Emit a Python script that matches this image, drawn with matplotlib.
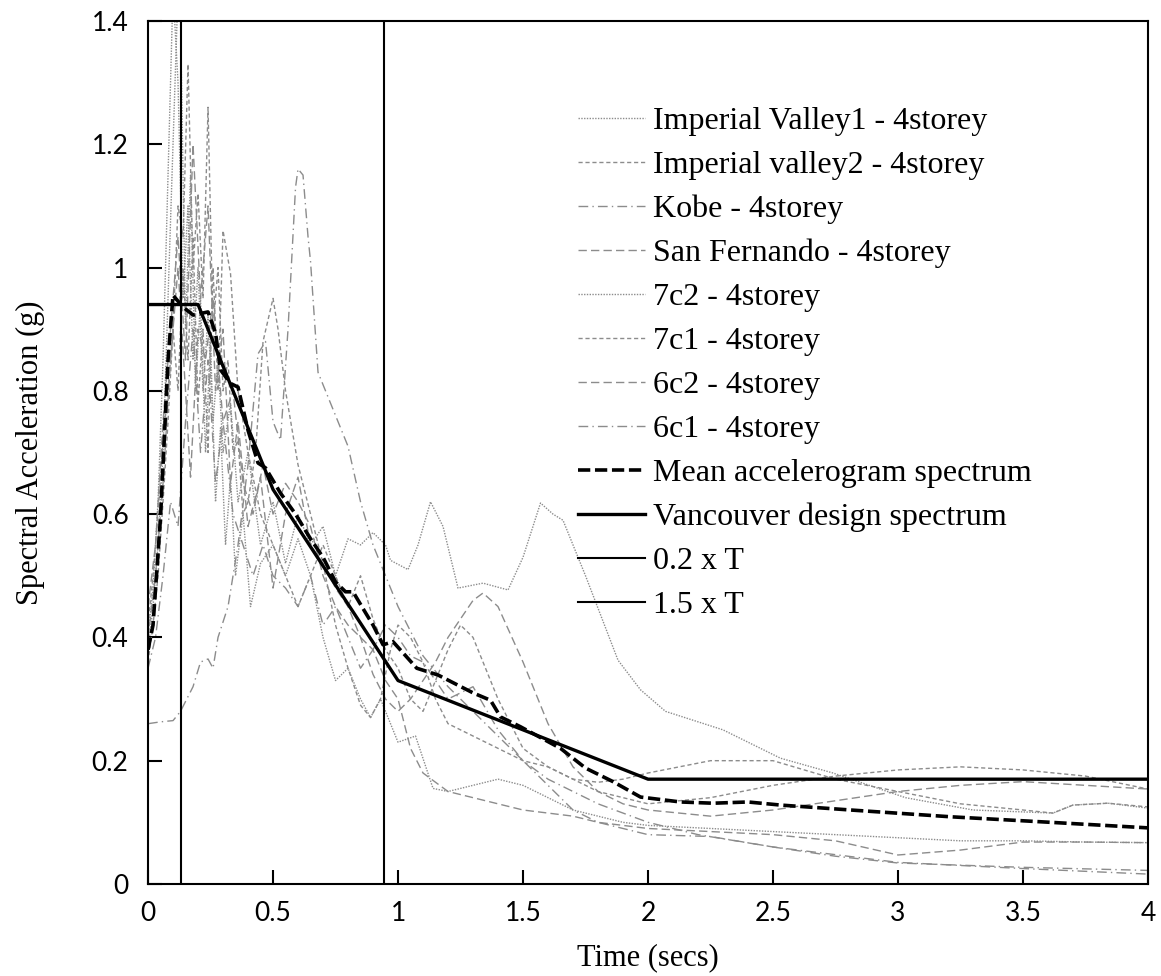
import matplotlib
matplotlib.use("Agg")
import matplotlib.pyplot as plt

# ---- data (period in s, spectral acceleration in g) ----
iv1_t = [0, 0.02, 0.04, 0.06, 0.08, 0.10, 0.12, 0.14, 0.16, 0.18, 0.20, 0.22, 0.24, 0.26, 0.28,
         0.30, 0.33, 0.36, 0.40, 0.45, 0.50, 0.55, 0.60, 0.65, 0.70, 0.75, 0.80, 0.85, 0.90, 0.95,
         0.97, 1.04, 1.08, 1.13, 1.18, 1.24, 1.34, 1.44, 1.50, 1.57, 1.62, 1.66, 1.75, 1.88, 1.97,
         2.07, 2.3, 2.53, 2.74, 3.03, 3.3, 3.62, 3.7, 3.84, 4.0]
iv1_sa = [0.40, 0.48, 0.62, 0.85, 1.15, 1.45, 1.30, 0.95, 1.10, 0.85, 1.00, 0.80, 0.92, 0.75, 0.85,
          0.70, 0.78, 0.62, 0.70, 0.55, 0.62, 0.52, 0.60, 0.55, 0.58, 0.50, 0.56, 0.55, 0.57, 0.55,
          0.525, 0.51, 0.55, 0.62, 0.58, 0.48, 0.488, 0.477, 0.53, 0.618, 0.60, 0.59, 0.50, 0.363, 0.315,
          0.28, 0.25, 0.204, 0.18, 0.14, 0.12, 0.115, 0.128, 0.131, 0.123]

iv2_t = [0, 0.02, 0.04, 0.06, 0.08, 0.10, 0.12, 0.14, 0.16, 0.18, 0.20, 0.22, 0.24, 0.26, 0.28,
         0.30, 0.32, 0.34, 0.36, 0.38, 0.40, 0.43, 0.46, 0.50, 0.52, 0.55, 0.60, 0.65, 0.70, 0.75,
         0.80, 0.85, 0.89, 0.93, 0.97, 1.0, 1.05, 1.1, 1.15, 1.2, 1.3, 1.4, 1.5, 1.6, 1.7, 1.8, 1.9,
         2.0, 2.25, 2.5, 2.75, 3.0, 3.25, 3.5, 3.75, 4.0]
iv2_sa = [0.42, 0.5, 0.6, 0.72, 0.8, 0.9, 1.1, 1.05, 1.33, 1.0, 1.12, 0.95, 1.26, 0.9, 1.0,
          0.8, 0.85, 0.7, 0.72, 0.6, 0.62, 0.7, 0.88, 0.95, 0.9, 0.8, 0.68, 0.6, 0.52, 0.42,
          0.35, 0.29, 0.27, 0.3, 0.38, 0.42, 0.4, 0.36, 0.3, 0.26, 0.24, 0.22, 0.2, 0.19, 0.17, 0.15, 0.14,
          0.13, 0.14, 0.16, 0.175, 0.185, 0.19, 0.185, 0.175, 0.154]

kobe_t = [0, 0.05, 0.1, 0.13, 0.18, 0.21, 0.24, 0.26, 0.28, 0.32, 0.36, 0.40, 0.44, 0.47, 0.50,
          0.53, 0.56, 0.59, 0.60, 0.62, 0.64, 0.65, 0.68, 0.70, 0.75, 0.80, 0.85, 0.90, 0.95, 1.0,
          1.05, 1.1, 1.2, 1.3, 1.4, 1.5, 1.6, 1.8, 2.0, 2.2, 2.5, 3.0, 3.5, 4.0]
kobe_sa = [0.26, 0.263, 0.265, 0.28, 0.32, 0.36, 0.365, 0.35, 0.40, 0.45, 0.55, 0.68, 0.86, 0.88, 0.75,
           0.72, 0.90, 1.13, 1.16, 1.15, 1.05, 1.01, 0.83, 0.81, 0.76, 0.71, 0.62, 0.55, 0.50, 0.45,
           0.41, 0.37, 0.32, 0.28, 0.24, 0.2, 0.17, 0.13, 0.10, 0.08, 0.06, 0.035, 0.025, 0.016]

sf_t = [0, 0.03, 0.06, 0.09, 0.12, 0.15, 0.18, 0.21, 0.24, 0.27, 0.30, 0.33, 0.36, 0.40, 0.45,
        0.50, 0.55, 0.60, 0.65, 0.70, 0.75, 0.80, 0.85, 0.90, 0.95, 1.0, 1.05, 1.1, 1.15, 1.2,
        1.25, 1.3, 1.34, 1.4, 1.5, 1.6, 1.7, 1.8, 1.9, 2.0, 2.25, 2.5, 2.75, 3.0, 3.25, 3.5, 3.75, 4.0]
sf_sa = [0.45, 0.55, 0.75, 0.9, 1.05, 0.85, 1.2, 0.95, 1.1, 0.8, 0.9, 0.65, 0.75, 0.58, 0.66,
         0.48, 0.6, 0.66, 0.55, 0.52, 0.48, 0.45, 0.4, 0.34, 0.3, 0.28, 0.3, 0.33, 0.36, 0.4,
         0.43, 0.46, 0.472, 0.45, 0.36, 0.26, 0.19, 0.15, 0.13, 0.12, 0.11, 0.12, 0.135, 0.15, 0.16, 0.166, 0.16, 0.154]

c72_t = [0, 0.02, 0.04, 0.06, 0.08, 0.10, 0.12, 0.13, 0.15, 0.17, 0.19, 0.21, 0.23, 0.25, 0.27,
         0.29, 0.31, 0.33, 0.35, 0.38, 0.41, 0.45, 0.5, 0.55, 0.6, 0.65, 0.7, 0.75, 0.8, 0.85,
         0.89, 0.93, 0.97, 1.0, 1.07, 1.14, 1.2, 1.3, 1.4, 1.5, 1.6, 1.7, 1.8, 1.9, 2.0, 2.25,
         2.5, 2.75, 3.0, 3.25, 3.5, 3.75, 4.0]
c72_sa = [0.38, 0.45, 0.55, 0.7, 0.95, 1.2, 1.45, 1.4, 0.9, 1.15, 0.8, 0.95, 0.7, 0.88, 0.62,
          0.74, 0.55, 0.66, 0.5, 0.6, 0.45, 0.52, 0.55, 0.5, 0.56, 0.5, 0.4, 0.33, 0.35, 0.3,
          0.27, 0.3, 0.26, 0.23, 0.24, 0.155, 0.15, 0.16, 0.17, 0.16, 0.14, 0.12, 0.11, 0.1, 0.095, 0.09,
          0.085, 0.08, 0.075, 0.07, 0.07, 0.068, 0.067]

c71_t = [0, 0.02, 0.04, 0.06, 0.08, 0.10, 0.12, 0.14, 0.16, 0.18, 0.20, 0.22, 0.24, 0.26, 0.28,
         0.30, 0.33, 0.36, 0.40, 0.45, 0.50, 0.55, 0.60, 0.65, 0.70, 0.75, 0.80, 0.85, 0.90, 0.95,
         1.0, 1.05, 1.1, 1.2, 1.25, 1.3, 1.4, 1.5, 1.6, 1.7, 1.8, 1.9, 2.0, 2.25, 2.5, 2.75, 3.0,
         3.25, 3.5, 3.62, 3.7, 3.84, 4.0]
c71_sa = [0.36, 0.42, 0.5, 0.62, 0.75, 0.9, 0.8, 1.0, 0.85, 1.05, 0.78, 0.9, 0.7, 1.0, 0.8,
          1.06, 0.99, 0.8, 0.7, 0.6, 0.55, 0.5, 0.45, 0.5, 0.55, 0.5, 0.45, 0.5, 0.43, 0.38,
          0.35, 0.3, 0.28, 0.38, 0.42, 0.4, 0.3, 0.22, 0.19, 0.17, 0.165, 0.17, 0.18, 0.2, 0.2, 0.17, 0.15,
          0.13, 0.12, 0.115, 0.128, 0.131, 0.125]

c62_t = [0, 0.03, 0.06, 0.09, 0.12, 0.15, 0.17, 0.2, 0.23, 0.26, 0.3, 0.34, 0.38, 0.42, 0.46,
         0.5, 0.55, 0.6, 0.65, 0.7, 0.75, 0.8, 0.85, 0.9, 0.95, 1.0, 1.05, 1.1, 1.2, 1.3, 1.4,
         1.5, 1.6, 1.7, 1.8, 1.9, 2.0, 2.25, 2.5, 2.75, 3.0, 3.25, 3.5, 3.75, 4.0]
c62_sa = [0.4, 0.5, 0.65, 0.85, 1.0, 0.8, 0.66, 0.9, 0.85, 0.95, 0.75, 0.8, 0.65, 0.6, 0.68,
          0.6, 0.65, 0.62, 0.58, 0.5, 0.45, 0.42, 0.4, 0.38, 0.33, 0.3, 0.22, 0.18, 0.15, 0.14, 0.13,
          0.12, 0.115, 0.11, 0.1, 0.095, 0.09, 0.085, 0.08, 0.07, 0.047, 0.055, 0.068, 0.068, 0.067]

c61_t = [0, 0.03, 0.06, 0.09, 0.12, 0.15, 0.18, 0.21, 0.24, 0.27, 0.3, 0.34, 0.38, 0.42, 0.46,
         0.5, 0.55, 0.6, 0.65, 0.7, 0.75, 0.8, 0.85, 0.9, 0.95, 1.0, 1.05, 1.1, 1.2, 1.3, 1.4,
         1.5, 1.6, 1.7, 1.8, 2.0, 2.25, 2.5, 2.75, 3.0, 3.5, 4.0]
c61_sa = [0.35, 0.4, 0.5, 0.62, 0.58, 0.75, 0.9, 0.7, 0.85, 0.65, 0.75, 0.6, 0.55, 0.5, 0.55,
          0.5, 0.48, 0.45, 0.5, 0.42, 0.45, 0.4, 0.35, 0.38, 0.42, 0.4, 0.37, 0.36, 0.3, 0.32, 0.25,
          0.2, 0.16, 0.12, 0.1, 0.08, 0.077, 0.06, 0.045, 0.034, 0.027, 0.022]

mean_t = [0, 0.02, 0.05, 0.08, 0.10, 0.14, 0.18, 0.24, 0.27, 0.29, 0.33, 0.36, 0.40, 0.44, 0.47,
          0.53, 0.59, 0.65, 0.70, 0.75, 0.79, 0.82, 0.87, 0.90, 0.94, 0.98, 1.075, 1.16, 1.3, 1.37,
          1.41, 1.49, 1.65, 1.75, 1.86, 1.97, 2.13, 2.26, 2.4, 2.53, 2.81, 3.21, 3.61, 4.0]
mean_sa = [0.38, 0.42, 0.595, 0.85, 0.955, 0.936, 0.923, 0.928, 0.894, 0.834, 0.812, 0.806, 0.736, 0.683, 0.675,
           0.634, 0.60, 0.56, 0.53, 0.49, 0.474, 0.474, 0.44, 0.42, 0.388, 0.393, 0.35, 0.339, 0.31, 0.298,
           0.271, 0.255, 0.22, 0.188, 0.166, 0.141, 0.133, 0.131, 0.133, 0.128, 0.12, 0.109, 0.10, 0.091]

design_t = [0, 0.2, 0.5, 1.0, 2.0, 4.0]
design_sa = [0.94, 0.94, 0.64, 0.33, 0.17, 0.17]

t_low = 0.132   # 0.2 x T
t_high = 0.944  # 1.5 x T

records = [
    ("Imperial Valley1 - 4storey", iv1_t, iv1_sa, (0, (1, 1))),
    ("Imperial valley2 - 4storey", iv2_t, iv2_sa, (0, (3, 2))),
    ("Kobe - 4storey", kobe_t, kobe_sa, (0, (7, 3, 1, 3))),
    ("San Fernando - 4storey", sf_t, sf_sa, (0, (6, 3))),
    ("7c2 - 4storey", c72_t, c72_sa, (0, (1, 1))),
    ("7c1 - 4storey", c71_t, c71_sa, (0, (3, 2))),
    ("6c2 - 4storey", c62_t, c62_sa, (0, (6, 3))),
    ("6c1 - 4storey", c61_t, c61_sa, (0, (7, 3, 1, 3))),
]

serif = "Liberation Serif"

fig = plt.figure(figsize=(11.61, 9.76), dpi=100)
ax = fig.add_axes([0.1275, 0.0943, 0.8613, 0.8842])

for name, t, sa, ls in records:
    ax.plot(t, sa, color="#8c8c8c", lw=1.0, linestyle=ls, label=name)

ax.plot(mean_t, mean_sa, color="black", lw=2.6, linestyle=(0, (3.4, 1.3)),
        label="Mean accelerogram spectrum")
ax.plot(design_t, design_sa, color="black", lw=2.4, label="Vancouver design spectrum")
ax.plot([t_low, t_low], [0, 1.4], color="black", lw=1.5, label="0.2 x T")
ax.plot([t_high, t_high], [0, 1.4], color="black", lw=1.5, label="1.5 x T")

ax.set_xlim(0, 4)
ax.set_ylim(0, 1.4)
ax.set_xticks([0, 0.5, 1, 1.5, 2, 2.5, 3, 3.5, 4])
ax.set_xticklabels(["0", "0.5", "1", "1.5", "2", "2.5", "3", "3.5", "4"])
ax.set_yticks([0, 0.2, 0.4, 0.6, 0.8, 1, 1.2, 1.4])
ax.set_yticklabels(["0", "0.2", "0.4", "0.6", "0.8", "1", "1.2", "1.4"])
ax.tick_params(direction="in", length=10, width=1.5, labelsize=19)
ax.tick_params(axis="x", pad=12)
ax.tick_params(axis="y", pad=14)
for lab in ax.get_xticklabels() + ax.get_yticklabels():
    lab.set_fontfamily("Lato")
for sp in ax.spines.values():
    sp.set_linewidth(1.5)

ax.set_xlabel("Time (secs)", fontfamily=serif, fontsize=22, va="center")
ax.set_ylabel("Spectral Acceleration (g)", fontfamily=serif, fontsize=22, va="center")
ax.xaxis.set_label_coords(0.5, -0.0857)
ax.yaxis.set_label_coords(-0.118, 0.5)

ax.legend(loc="upper left", bbox_to_anchor=(0.417, 0.915), frameon=False,
          prop={"family": serif, "size": 23},
          handlelength=2.1, handletextpad=0.25, labelspacing=0.455, borderaxespad=0)

fig.savefig("out.png", dpi=100)
